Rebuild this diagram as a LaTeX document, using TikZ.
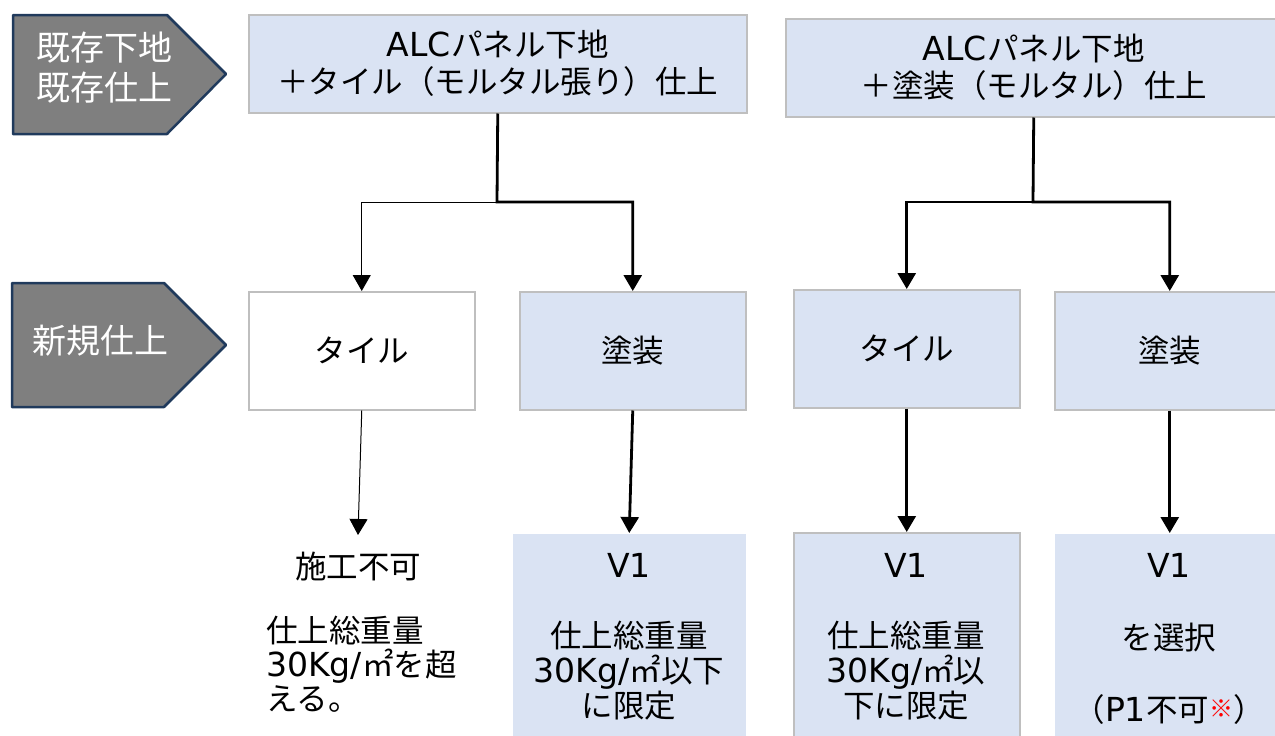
\documentclass[tikz,border=0pt]{standalone}
\usepackage{fontspec}
\setmainfont{Noto Sans CJK JP}
\newfontfamily\lat[Scale=1.05]{DejaVu Sans}
\usetikzlibrary{arrows.meta}
\definecolor{boxblue}{HTML}{DAE3F3}
\definecolor{boxline}{HTML}{BFBFBF}
\definecolor{tagfill}{HTML}{7F7F7F}
\definecolor{tagline}{HTML}{203A5C}
\begin{document}
\begin{tikzpicture}[x=1pt,y=-1pt,
  box/.style={draw=boxline, line width=1.5pt, fill=boxblue, anchor=north west,
    inner sep=0pt, align=center, font=\fontsize{31.5}{37}\selectfont},
  tag/.style={fill=tagfill, draw=tagline, line width=2.5pt, line join=round},
  tagtext/.style={text=white, inner sep=0pt, align=center, font=\fontsize{34}{40}\selectfont},
  btext/.style={inner sep=0pt, align=center, font=\fontsize{31.5}{35}\selectfont},
  conn/.style={line width=2.8pt, -{Triangle[width=18pt,length=16pt]}},
  thinconn/.style={line width=1pt, -{Triangle[width=18pt,length=16pt]}}]
\useasboundingbox (0,0) rectangle (1275,736);
\clip (0,0) rectangle (1275,736);
% left tags
\draw[tag] (13,15) -- (167,15) -- (226,74) -- (167,134) -- (13,134) -- cycle;
\node[tagtext] (tag1) at (104,68) {既存下地\\既存仕上};
\draw[tag] (12,283) -- (164,283) -- (226,345) -- (164,407) -- (12,407) -- cycle;
\node[tagtext] (tag2) at (100,341) {新規仕上};
% top boxes
\node[box, minimum width=498pt, minimum height=98pt] (t1) at (248,14)
  {{\lat ALC}パネル下地\\＋タイル（モルタル張り）仕上};
\node[box, minimum width=496pt, minimum height=98pt] (t2) at (785,18)
  {{\lat ALC}パネル下地\\＋塗装（モルタル）仕上};
% second row
\node[box, fill=white, minimum width=226pt, minimum height=118pt] (b1) at (248,291) {タイル};
\node[box, minimum width=226pt, minimum height=118pt] (b2) at (519,291) {塗装};
\node[box, minimum width=226pt, minimum height=118pt] (b3) at (793,289) {タイル};
\node[box, minimum width=230pt, minimum height=118pt] (b4) at (1054,291) {塗装};
% bottom row
\node[box, draw=none, minimum width=233pt, minimum height=215pt] (v1) at (512,533) {};
\node[box, minimum width=226pt, minimum height=215pt] (v2) at (793,532) {};
\node[box, draw=none, minimum width=230pt, minimum height=215pt] (v3) at (1054,533) {};
\node[btext] (v1t) at (629,637) {{\lat V1}\\[35pt]仕上総重量\\{\lat 30Kg/}㎡以下\\に限定};
\node[btext] (v2t) at (906,637) {{\lat V1}\\[35pt]仕上総重量\\{\lat 30Kg/}㎡以\\下に限定};
\node[btext, font=\fontsize{31.5}{36}\selectfont] (v3t) at (1169,639)
  {{\lat V1}\\[36pt]を選択\\[36pt]（{\lat P1}不可\raisebox{4pt}{\fontsize{24}{24}\selectfont\color{red}※}）};
\node[btext] (ng) at (358,567) {施工不可};
\node[btext, align=left, anchor=west, font=\fontsize{31.5}{34}\selectfont] (ngnote) at (266,664)
  {仕上総重量\\{\lat 30Kg/}㎡を超\\える。};
% connectors
\coordinate (j1) at (497,202);
\coordinate (j2) at (1033,202);
\coordinate (ngtop) at (358,535);
\draw[conn] (t1.south) -- (j1) -| (b2.north);
\draw[thinconn] (j1) -| (b1.north);
\draw[conn] (t2.south) -- (j2) -| (b4.north);
\draw[conn] (j2) -| (b3.north);
\draw[thinconn] (b1.south) -- (ngtop);
\draw[conn] (b2.south) -- (v1.north);
\draw[conn] (b3.south) -- (v2.north);
\draw[conn] (b4.south) -- (v3.north);
\end{tikzpicture}
\end{document}
